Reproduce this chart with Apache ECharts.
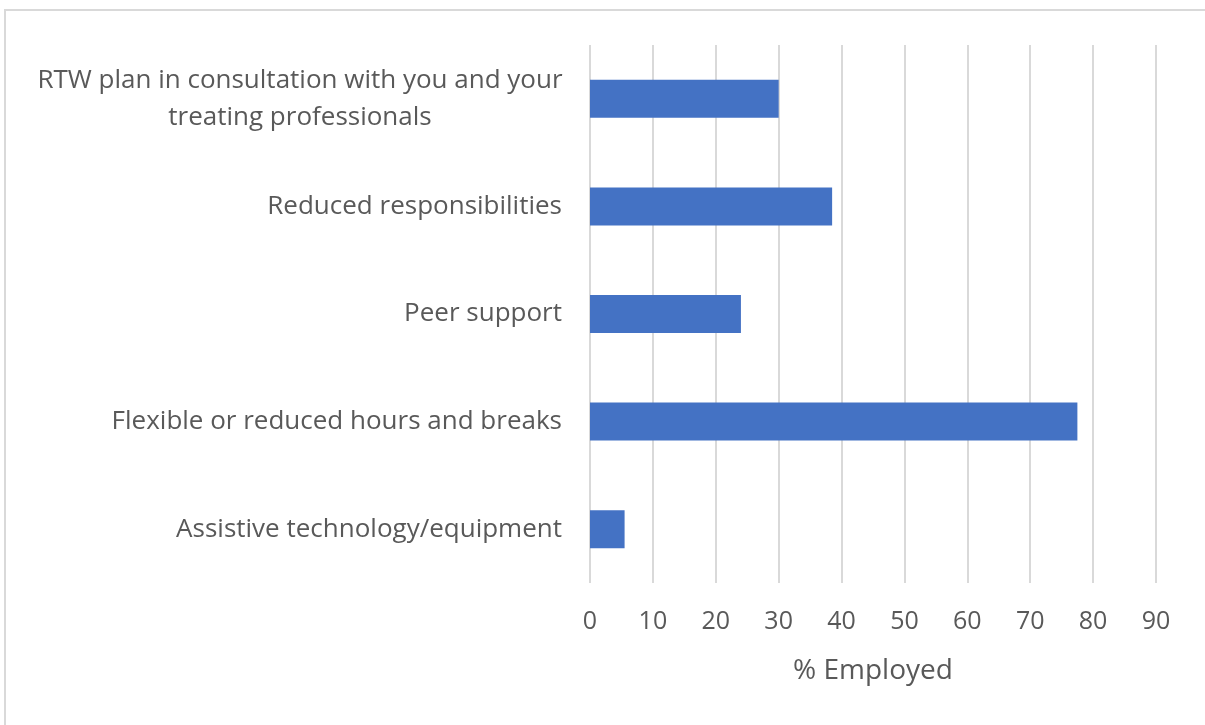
<!DOCTYPE html>
<html>
<head>
<meta charset="utf-8">
<script src="https://cdn.jsdelivr.net/npm/echarts@6/dist/echarts.min.js"></script>
<style>
  html, body { margin: 0; padding: 0; background: #fff; }
  #frame { position: absolute; left: 4px; top: 9px; width: 1201px; height: 716px;
           border-left: 2px solid #d9d9d9; border-top: 2px solid #d9d9d9; box-sizing: border-box; }
  #chart { position: absolute; left: 0; top: 0; width: 1205px; height: 725px; }
</style>
</head>
<body>
<div id="frame"></div>
<div id="chart"></div>
<script>
// categories top to bottom
const categories = [
    'RTW plan in consultation with you and your\ntreating professionals',
    'Reduced responsibilities',
    'Peer support',
    'Flexible or reduced hours and breaks',
    'Assistive technology/equipment'
];
const employed = [30, 38.5, 24, 77.5, 5.5];
const axisName = '% Employed';

const textColor = '#595959';
const fontFamily = '"Open Sans", sans-serif';

const myChart = echarts.init(document.getElementById('chart'));
const option = {
    animation: false,
    grid: {
        left: 590,
        right: 49,
        top: 45,
        bottom: 142
    },
    xAxis: {
        type: 'value',
        min: 0,
        max: 90,
        interval: 10,
        name: axisName,
        nameLocation: 'middle',
        nameGap: 74,
        nameTextStyle: { color: textColor, fontSize: 28, fontFamily: fontFamily },
        axisLine: { show: false },
        axisTick: { show: false },
        axisLabel: { color: textColor, fontSize: 25, fontFamily: fontFamily, margin: 26 },
        splitLine: { lineStyle: { color: '#d9d9d9', width: 2 } }
    },
    yAxis: {
        type: 'category',
        inverse: true,
        data: categories,
        axisLine: { show: false },
        axisTick: { show: false },
        axisLabel: {
            color: textColor,
            fontSize: 26,
            fontFamily: fontFamily,
            margin: 28,
            lineHeight: 37,
            align: 'right',
            // multi-line label: lines centred on each other
            formatter: function (v) {
                if (v.indexOf('\n') < 0) return v;
                return v.split('\n').map(function (s) { return '{c|' + s + '}'; }).join('\n');
            },
            rich: {
                c: {
                    color: textColor,
                    fontSize: 26,
                    fontFamily: fontFamily,
                    lineHeight: 37,
                    width: 524,
                    align: 'center'
                }
            }
        }
    },
    series: [
        {
            name: axisName,
            type: 'bar',
            data: employed,
            barWidth: 38,
            itemStyle: { color: '#4472c4' }
        }
    ]
};
myChart.setOption(option);
</script>
</body>
</html>
